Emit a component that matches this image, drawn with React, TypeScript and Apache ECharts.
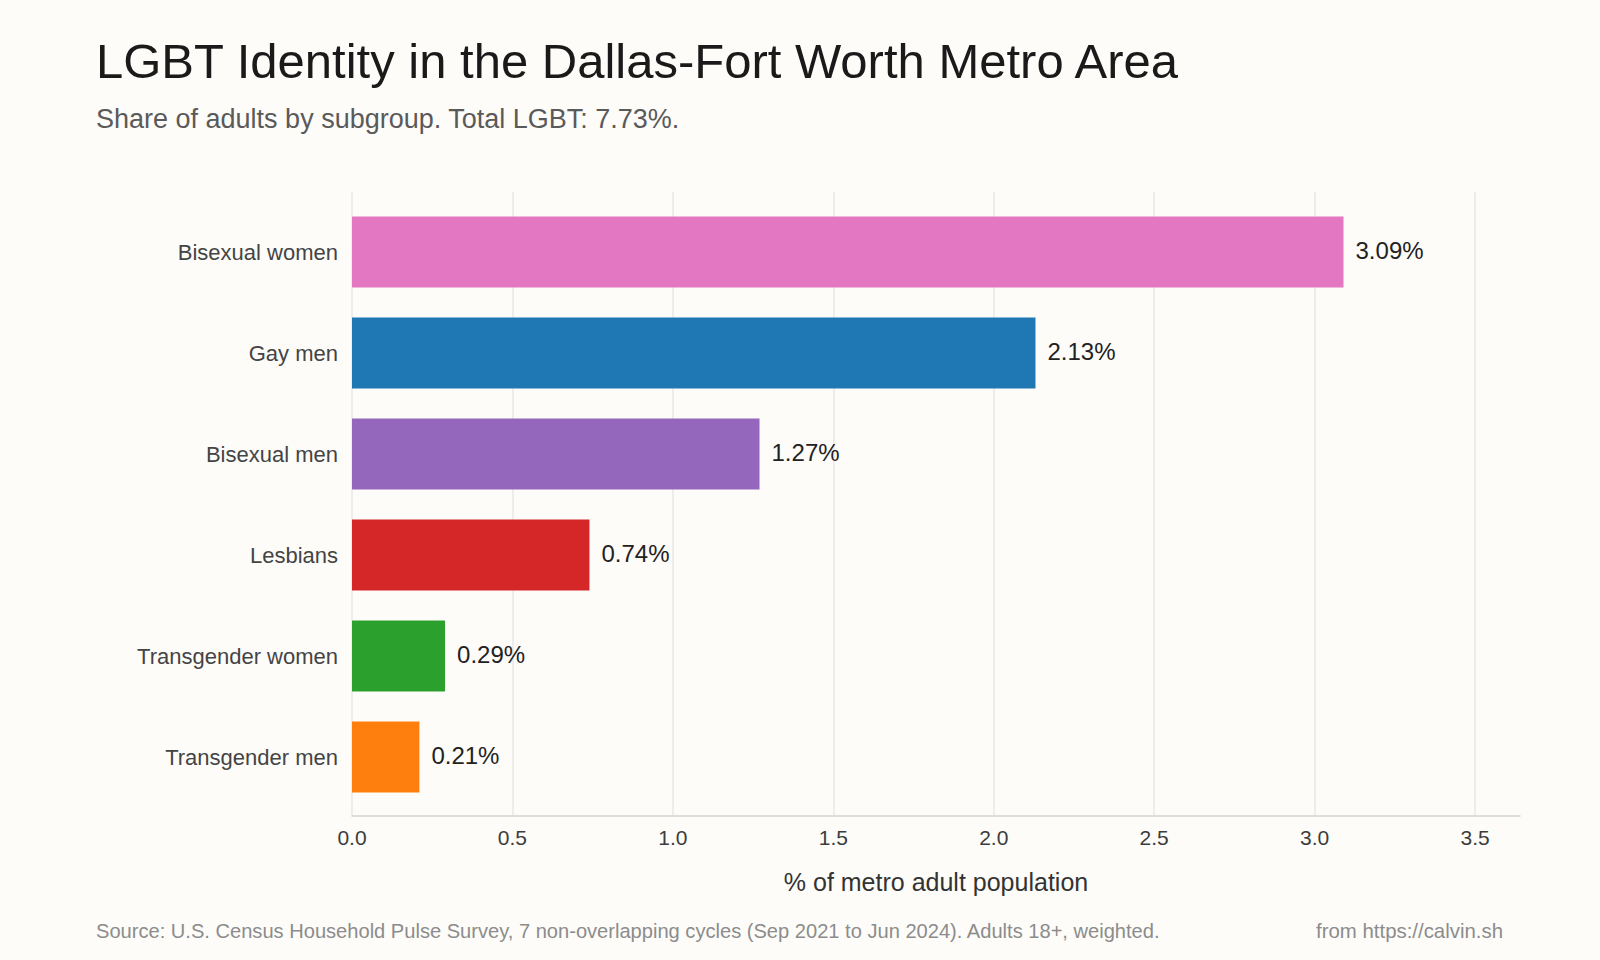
import React, { useEffect, useRef } from "react";
import * as echarts from "echarts";

const categories = [
  "Bisexual women",
  "Gay men",
  "Bisexual men",
  "Lesbians",
  "Transgender women",
  "Transgender men",
];
const values = [3.09, 2.13, 1.27, 0.74, 0.29, 0.21];
const colors = ["#e377c2", "#1f77b4", "#9467bd", "#d62728", "#2ca02c", "#ff7f0e"];

const titleText = "LGBT Identity in the Dallas-Fort Worth Metro Area";
const subtitleText = "Share of adults by subgroup. Total LGBT: 7.73%.";
const xAxisName = "% of metro adult population";
const sourceText =
  "Source: U.S. Census Household Pulse Survey, 7 non-overlapping cycles (Sep 2021 to Jun 2024). Adults 18+, weighted.";
const creditText = "from https://calvin.sh";

const FONT = "'Liberation Sans', Arial, Helvetica, sans-serif";
const X_MAX = 3.64;

export default function App() {
  const ref = useRef<HTMLDivElement>(null);

  useEffect(() => {
    document.body.style.margin = "0";
    document.body.style.background = "#fdfcf9";
    if (!ref.current) return;
    const chart = echarts.init(ref.current, undefined, { renderer: "svg" });
    const option: any = {
      animation: false,
      backgroundColor: "#fdfcf9",
      textStyle: { fontFamily: FONT },
      grid: [
        { left: 352, right: 80, top: 192, bottom: 144 },
        { left: 352, right: 80, top: 201.5, bottom: 152.5 },
      ],
      xAxis: [
        {
          type: "value",
          gridIndex: 0,
          min: 0,
          max: X_MAX,
          interval: 0.5,
          axisLine: { show: true, lineStyle: { color: "#d4d4d4", width: 1.5 } },
          axisTick: { show: false },
          splitLine: {
            show: true,
            showMaxLine: false,
            lineStyle: { color: "#e8e8e8", width: 1.5 },
          },
          axisLabel: {
            fontSize: 21,
            color: "#3c3c3c",
            margin: 11,
            fontFamily: FONT,
            showMaxLabel: false,
            formatter: (v: number) => v.toFixed(1),
          },
          name: xAxisName,
          nameLocation: "middle",
          nameGap: 53,
          nameTextStyle: { fontSize: 25, color: "#333", fontFamily: FONT },
        },
        {
          type: "value",
          gridIndex: 1,
          min: 0,
          max: X_MAX,
          show: false,
          splitLine: { show: false },
        },
      ],
      yAxis: [
        {
          type: "category",
          gridIndex: 0,
          data: categories,
          show: false,
        },
        {
          type: "category",
          gridIndex: 1,
          data: categories,
          inverse: true,
          axisLine: { show: false },
          axisTick: { show: false },
          splitLine: { show: false },
          axisLabel: { fontSize: 22, color: "#444", margin: 14, fontFamily: FONT },
        },
      ],
      series: [
        {
          type: "bar",
          xAxisIndex: 1,
          yAxisIndex: 1,
          barWidth: 71,
          data: values.map((v, i) => ({ value: v, itemStyle: { color: colors[i] } })),
          label: {
            show: true,
            position: "right",
            distance: 12,
            offset: [0, -2],
            fontSize: 24,
            color: "#222",
            fontFamily: FONT,
            formatter: (p: any) => `${Number(p.value).toFixed(2)}%`,
          },
        },
      ],
      graphic: [
        {
          type: "text",
          x: 96,
          y: 61,
          style: {
            text: titleText,
            fontSize: 49,
            fill: "#1a1a1a",
            fontFamily: FONT,
            verticalAlign: "middle",
          },
        },
        {
          type: "text",
          x: 96,
          y: 119,
          style: {
            text: subtitleText,
            fontSize: 27,
            fill: "#5a5a5a",
            fontFamily: FONT,
            verticalAlign: "middle",
          },
        },
        {
          type: "text",
          x: 96,
          y: 931,
          style: {
            text: sourceText,
            fontSize: 20.1,
            fill: "#8c8c8c",
            fontFamily: FONT,
            verticalAlign: "middle",
          },
        },
        {
          type: "text",
          x: 1503,
          y: 931,
          style: {
            text: creditText,
            fontSize: 20.4,
            fill: "#8c8c8c",
            fontFamily: FONT,
            align: "right",
            verticalAlign: "middle",
          },
        },
      ],
    };
    chart.setOption(option);
    return () => chart.dispose();
  }, []);

  return <div ref={ref} style={{ width: 1600, height: 960 }} />;
}
